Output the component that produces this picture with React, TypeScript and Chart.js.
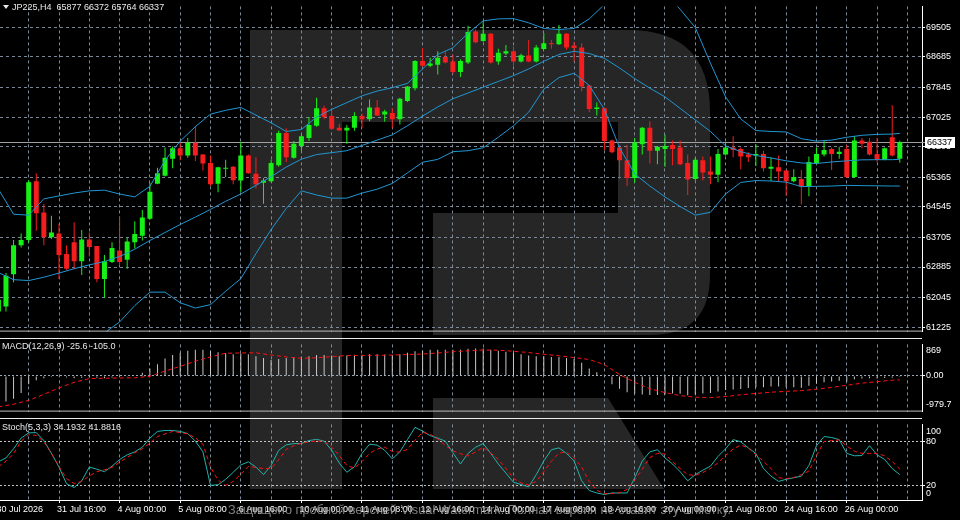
import React, { useEffect, useRef } from "react";
import { Chart, registerables } from "chart.js";

Chart.register(...registerables);

// ---------- data ----------
const symbolTitle = "JP225,H4  65877 66372 65764 66337";
const macdTitle = "MACD(12,26,9) -25.6 -105.0";
const stochTitle = "Stoch(5,3,3) 34.1932 41.8816";
const watermarkText = "Защищено пробной версией Visual Watermark. Полная версия не ставит эту отметку.";
const lastPrice = 66337;

const opens = [
  61659, 61792, 62688, 63485, 63634, 65254, 64388, 63705, 63812, 63246,
  63572, 63041, 63644, 63466, 62555, 63022, 63341, 63086, 63572, 63750,
  64218, 65185, 65406, 65876, 66168, 65964, 66317, 65990, 65759, 65185,
  65600, 65653, 65273, 65964, 65459, 65212, 65254, 65698, 66583, 65903,
  66229, 66450, 66787, 67266, 67053, 66734, 66655, 66734, 67053, 66965,
  67292, 67098, 67141, 66965, 67470, 67824, 68575, 68443, 68469, 68682,
  68560, 68267, 68533, 69391, 69126, 69330, 68560, 68780, 68841, 68560,
  68727, 68560, 68905, 69064, 69038, 69330, 69001, 68948, 67895, 67247,
  67266, 66381, 66184, 65831, 65345, 66275, 66734, 66097, 66142, 66256,
  66184, 65759, 65318, 65831, 65520, 65432, 65990, 66184, 66142, 65990,
  65964, 66009, 65600, 65637, 65547, 65254, 65318, 65105, 65759, 65990,
  66142, 66009, 66142, 65371, 66381, 66344, 66009, 65849, 66469, 65877,
];
const highs = [
  62111, 62722, 63634, 63812, 65281, 65477, 64635, 64298, 64077, 63485,
  64122, 63910, 63838, 63466, 63219, 63572, 64263, 63705, 64149, 64457,
  65212, 65626, 66184, 66211, 66317, 66450, 66787, 66009, 65964, 65653,
  65849, 65671, 66344, 65990, 65919, 65345, 65849, 66647, 66716, 66362,
  66556, 67026, 67558, 67337, 67231, 66841, 66806, 67159, 67114, 67513,
  67497, 67231, 67266, 67558, 67885, 68594, 68931, 68666, 68841, 68841,
  68753, 68621, 69551, 69444, 69683, 69346, 68913, 69019, 68974, 68772,
  69152, 69019, 69346, 69152, 69569, 69345, 69107, 69064, 67911, 67425,
  67292, 66407, 66256, 66256, 66450, 66750, 66912, 66229, 66540, 66381,
  66381, 65990, 65910, 65937, 65937, 66142, 66317, 66495, 66184, 66051,
  66275, 66097, 65919, 65964, 65565, 65584, 65565, 65937, 66184, 66381,
  66184, 66203, 66256, 66495, 66450, 66450, 66450, 66184, 67353, 66372,
];
const lows = [
  61526, 61659, 62464, 63421, 63572, 63883, 63485, 63660, 62555, 62802,
  62820, 62661, 63174, 62464, 62039, 62996, 62953, 62836, 63394, 63618,
  64191, 65167, 65387, 65610, 65831, 65903, 65812, 65547, 65121, 64946,
  65371, 65167, 64946, 65459, 65052, 64635, 65228, 65653, 65786, 65876,
  66097, 66362, 66761, 66965, 66673, 66647, 66291, 66647, 66716, 66912,
  67053, 66894, 66716, 66822, 67444, 67762, 68416, 68400, 68203, 68506,
  68222, 68134, 68488, 69064, 69107, 68506, 68469, 68735, 68443, 68533,
  68540, 68533, 68886, 68913, 69019, 68886, 68560, 67736, 67159, 67072,
  66115, 66025, 65318, 65121, 65212, 65990, 65743, 65725, 65653, 65698,
  65698, 64874, 65273, 65281, 65167, 65228, 65964, 65919, 65584, 65786,
  65671, 65520, 65254, 65254, 64856, 65228, 64609, 64840, 65725, 65937,
  65565, 65876, 65345, 65345, 66168, 65964, 65786, 65831, 65937, 65764,
];
const closes = [
  61978, 62642, 63485, 63634, 65228, 64369, 63705, 63838, 63219, 62836,
  63041, 63644, 63440, 62555, 63041, 63413, 63022, 63591, 63793, 64255,
  64962, 65477, 65903, 66168, 65964, 66317, 65964, 65743, 65167, 65637,
  65626, 65281, 65964, 65477, 65167, 65273, 65759, 66583, 65919, 66291,
  66495, 66806, 67266, 67026, 66700, 66655, 66734, 67053, 66965, 67292,
  67072, 67178, 66965, 67531, 67869, 68575, 68443, 68506, 68666, 68533,
  68267, 68575, 69373, 69091, 69330, 68533, 68799, 68841, 68560, 68735,
  68560, 68948, 69064, 69038, 69330, 68948, 68931, 67869, 67247, 67292,
  66362, 66051, 65831, 65345, 66317, 66734, 66097, 66203, 66229, 66142,
  65725, 65299, 65849, 65493, 65432, 66009, 66184, 66115, 65937, 65919,
  66009, 65610, 65653, 65520, 65254, 65371, 65105, 65786, 66009, 66115,
  66009, 66070, 65371, 66381, 66291, 65990, 65849, 66168, 65964, 66337,
];

const sampleBars = [
  0, 2, 4, 6, 8, 10, 12, 14, 16, 18, 20, 22, 24, 26, 28, 30, 32, 34, 36, 38,
  40, 42, 44, 46, 48, 50, 52, 54, 56, 58, 60, 62, 64, 66, 68, 70, 72, 74, 76, 78,
  80, 82, 84, 86, 88, 90, 92, 94, 96, 98, 100, 102, 104, 106, 108, 110, 112, 114, 116, 118, 119,
];
const bbUpper = [
  65034, 64343, 64316, 64768, 64848, 64927, 64988, 65007, 64901, 64821,
  65113, 65831, 66362, 66761, 67106, 67212, 67292, 67080, 66867, 66628,
  66681, 67026, 67239, 67425, 67611, 67744, 67837, 67956, 68355, 68754,
  68940, 69338, 69683, 69737, 69745, 69630, 69471, 69444, 69471, 69737,
  70135, 70481, 70746, 70746, 70481, 70002, 69497, 68514, 67584, 66973,
  66654, 66628, 66615, 66429, 66362, 66389, 66468, 66522, 66548, 66556, 66575,
];
const bbMiddle = [
  62730, 62536, 62510, 62603, 62717, 62839, 62943, 63036, 63174, 63376,
  63617, 63838, 64059, 64263, 64476, 64699, 64901, 65140, 65379, 65645,
  65863, 65990, 66043, 66097, 66243, 66389, 66535, 66787, 67053, 67305,
  67531, 67691, 67850, 68010, 68169, 68355, 68567, 68754, 68841, 68780,
  68647, 68381, 68089, 67824, 67584, 67266, 66947, 66628, 66229, 66070,
  65964, 65897, 65817, 65759, 65743, 65786, 65817, 65844, 65849, 65849, 65857,
];
const bbLower = [
  60437, 60729, 60703, 60437, 60597, 60756, 60889, 61064, 61367, 61819,
  62191, 62191, 61898, 61752, 61845, 62217, 62563, 63254, 63918, 64502,
  64988, 64874, 64787, 64787, 64927, 65034, 65193, 65485, 65778, 65857,
  66070, 66097, 66176, 66469, 66787, 67159, 67797, 68116, 68235, 67903,
  67239, 66176, 65459, 65121, 64821, 64555, 64316, 64396, 64901, 65220,
  65273, 65260, 65228, 65105, 65113, 65121, 65140, 65132, 65127, 65121, 65121,
];

const macdMain = [
  -740, -703, -624, -466, -229, -120, -60, -30, -20, -40,
  -60, -50, -40, -50, -60, -40, -30, -20, 0, 87,
  205, 324, 482, 577, 640, 695, 719, 719, 695, 656,
  624, 600, 616, 600, 545, 498, 442, 466, 498, 521,
  521, 545, 577, 577, 561, 545, 561, 585, 585, 600,
  600, 593, 577, 600, 640, 679, 703, 719, 719, 719,
  719, 719, 751, 758, 758, 719, 695, 664, 640, 600,
  561, 545, 545, 521, 521, 498, 466, 363, 205, 103,
  -10, -229, -348, -450, -482, -506, -521, -521, -506, -482,
  -490, -529, -506, -482, -466, -427, -387, -371, -356, -332,
  -308, -308, -292, -292, -308, -308, -324, -269, -213, -174,
  -150, -134, -150, -87, -71, -63, -71, -55, -47, -25.6,
];
const macdSignal = [
  -848, -777, -671, -505, -327, -173, -71, -62, -55, -50,
  -7, 135, 265, 408, 526, 626, 633, 638, 576, 526,
  486, 502, 533, 562, 566, 569, 576, 590, 604, 633,
  668, 692, 716, 709, 680, 645, 597, 557, 507, 453,
  313, 40, -173, -351, -457, -540, -583, -595, -566, -517,
  -481, -446, -422, -403, -363, -315, -256, -197, -156, -116, -105,
];

const stochMain = [
  51.7, 57.1, 69.6, 84.2, 91.3, 91.7, 80.8, 63.3, 44.6, 21.7,
  16.7, 25.8, 44.6, 41.7, 38.3, 45.8, 55, 61.3, 65.4, 71.7,
  84.2, 93.3, 94.6, 94.6, 93.3, 90.4, 80, 65.4, 19.6, 20.4,
  27.9, 37.5, 47.5, 51.7, 44.6, 34.2, 46.7, 67.5, 75, 76.7,
  76.7, 80.8, 82.5, 80, 67.5, 50, 37.5, 45, 63.3, 75.8,
  74.6, 67.5, 55.8, 65.4, 82.1, 98.8, 93.8, 87.5, 84.2, 80,
  64.2, 48.8, 63.3, 71.7, 76.7, 63.3, 48.8, 36.3, 23.8, 20.8,
  17.5, 34.2, 52.9, 68.3, 70.8, 63.3, 52.9, 25.8, 12.5, 9.2,
  7.1, 9.2, 9.2, 9.2, 30, 52.9, 65.4, 68.3, 57.1, 48.8,
  38.3, 25.8, 34.2, 40.4, 45.8, 59.2, 69.6, 82.1, 79.2, 70.8,
  63.3, 42.5, 32.1, 25, 27.9, 30, 32.1, 46.7, 73.8, 86.3,
  85, 82.1, 63.3, 60, 60.4, 73.8, 61.3, 55, 42.5, 34.1932,
];
const stochSignal = [
  45, 52.5, 62.9, 80, 88.8, 87.9, 79.2, 63.3, 45.4, 28.8,
  22.1, 25, 32.5, 38.3, 40.8, 44.2, 51.3, 57.9, 64.2, 69.6,
  77.1, 86.3, 90, 93.3, 91.7, 90, 84.6, 75.8, 44.6, 26.7,
  19.6, 25, 35, 45.4, 44.2, 42.5, 42.5, 54.6, 68.8, 73.8,
  77.1, 79.2, 80, 80, 71.7, 60.4, 46.7, 43.3, 52.1, 63.3,
  69.2, 71.7, 65.8, 65, 68.8, 81.3, 92.1, 89.6, 82.9, 74.2,
  66.7, 62.9, 59.6, 65.4, 71.3, 63.8, 55, 42.9, 29.2, 22.9,
  20, 25, 38.3, 52.5, 63.8, 65, 57.1, 44.6, 25, 12.9,
  8.3, 8.3, 9.6, 14.2, 26.7, 41.7, 57.5, 63.3, 62.5, 51.7,
  42.5, 34.2, 33.3, 37.1, 42.5, 50.4, 60.4, 69.2, 74.6, 70.8,
  61.3, 52.5, 42.5, 30, 28.8, 30.4, 34.2, 39.2, 60, 79.6,
  80.8, 81.7, 73.3, 66.3, 63.3, 63.3, 63.3, 60, 52.1, 41.8816,
];

const priceTicks = [61225, 62045, 62885, 63705, 64545, 65365, 66205, 67025, 67845, 68685, 69505];
const macdTickValues = [707, 0, -795];
const macdTickLabels = ["869", "0.00", "-979.7"];
const stochTickValues = [92.9, 80, 20, 8.3];
const stochTickLabels = ["100", "80", "20", "0"];
const gridBars = [0, 4, 8, 12, 16, 20, 24, 28, 32, 36, 40, 44, 48, 52, 56, 60, 64, 68, 72, 76, 80, 84, 88, 92, 96, 100, 104, 108, 112, 116, 120];
const timeLabelBars = [0, 8, 16, 24, 32, 40, 48, 56, 64, 72, 80, 88, 96, 104, 112];
const timeLabels = [
  "30 Jul 2026", "31 Jul 16:00", "4 Aug 00:00", "5 Aug 08:00", "6 Aug 16:00",
  "10 Aug 00:00", "11 Aug 08:00", "12 Aug 16:00", "14 Aug 00:00", "17 Aug 08:00",
  "18 Aug 16:00", "20 Aug 00:00", "21 Aug 08:00", "24 Aug 16:00", "26 Aug 00:00",
];

// ---------- style ----------
const X_MIN = 0.211;
const X_MAX = 121.93;
const AXIS_W = 38;
const GRID = "rgba(128,142,158,0.95)";
const UP = "#16f016";
const DOWN = "#f41e1e";
const BAND = "#2196d3";
const FONT = '"Liberation Sans", Arial, sans-serif';
const TRANSPARENT = "rgba(0,0,0,0)";

function xScale(showLabels: boolean): any {
  return {
    type: "linear",
    min: X_MIN,
    max: X_MAX,
    offset: false,
    bounds: "data",
    afterBuildTicks: (s: any) => {
      s.ticks = gridBars.map((v) => ({ value: v }));
    },
    afterFit: (s: any) => {
      s.height = showLabels ? 20 : 0;
      s.paddingLeft = 0;
      s.paddingRight = 0;
    },
    grid: {
      display: true,
      offset: false,
      color: GRID,
      lineWidth: 1,
      drawTicks: showLabels,
      tickLength: 3,
      tickWidth: 1,
      tickColor: (c: any) => (c.tick && timeLabelBars.includes(c.tick.value) ? "#ffffff" : TRANSPARENT),
    },
    border: { display: showLabels, color: "#ffffff", width: 1, dash: [3, 3] },
    ticks: {
      display: showLabels,
      autoSkip: false,
      maxRotation: 0,
      minRotation: 0,
      align: "start",
      labelOffset: -2,
      padding: 1,
      color: "#ffffff",
      font: { family: FONT, size: 9 },
      callback: (v: any) => {
        const k = timeLabelBars.indexOf(v);
        return k >= 0 ? timeLabels[k] : "";
      },
    },
  };
}

function yScale(min: number, max: number, values: number[], labels: string[] | null, gridColor: any, tickColor: any, dash: number[]): any {
  return {
    type: "linear",
    position: "right",
    min,
    max,
    bounds: "data",
    beginAtZero: false,
    afterBuildTicks: (s: any) => {
      s.ticks = values.map((v) => ({ value: v }));
    },
    afterFit: (s: any) => {
      s.width = AXIS_W;
    },
    grid: { color: gridColor, lineWidth: 1, drawTicks: true, tickLength: 3, tickWidth: 1, tickColor },
    border: { display: true, color: "#ffffff", width: 1, dash },
    ticks: {
      autoSkip: false,
      padding: 1,
      color: "#ffffff",
      font: { family: FONT, size: 9 },
      callback: (v: any, i: number) => (labels ? labels[i] : String(v)),
    },
  };
}

const baseOptions: any = {
  responsive: false,
  maintainAspectRatio: false,
  animation: false,
  events: [],
  layout: { padding: 0 },
  plugins: { legend: { display: false }, tooltip: { enabled: false } },
};

function hLine(ctx: CanvasRenderingContext2D, y: number, x1: number, x2: number, color: string) {
  ctx.save();
  ctx.strokeStyle = color;
  ctx.lineWidth = 1;
  ctx.beginPath();
  ctx.moveTo(x1, y);
  ctx.lineTo(x2, y);
  ctx.stroke();
  ctx.restore();
}

function drawTitle(ctx: CanvasRenderingContext2D, text: string, x: number, y: number) {
  ctx.save();
  ctx.font = `9px ${FONT}`;
  ctx.fillStyle = "#e8e8e8";
  ctx.textBaseline = "middle";
  ctx.textAlign = "left";
  ctx.fillText(text, x, y);
  ctx.restore();
}

export default function App() {
  const mainRef = useRef<HTMLCanvasElement>(null);
  const macdRef = useRef<HTMLCanvasElement>(null);
  const stochRef = useRef<HTMLCanvasElement>(null);

  useEffect(() => {
    document.body.style.margin = "0";
    document.body.style.background = "#000";
    const idx = opens.map((_, i) => i);
    const candleColors = idx.map((i) => (closes[i] >= opens[i] ? UP : DOWN));

    const mainPlugin = {
      id: "mainExtras",
      beforeDatasetsDraw(chart: any) {
        const { ctx, chartArea, scales } = chart;
        const py = Math.round(scales.y.getPixelForValue(lastPrice)) + 0.5;
        hLine(ctx, py, chartArea.left, chartArea.right + 3, "#a0a0a0");
      },
      afterDraw(chart: any) {
        const { ctx, chartArea, scales } = chart;
        hLine(ctx, chartArea.bottom - 0.5, 0, chartArea.right, "#bdbdbd");
        // header
        ctx.save();
        ctx.fillStyle = "#e8e8e8";
        ctx.beginPath();
        ctx.moveTo(3, 5);
        ctx.lineTo(9, 5);
        ctx.lineTo(6, 9);
        ctx.closePath();
        ctx.fill();
        ctx.restore();
        drawTitle(ctx, symbolTitle, 12, 7.5);
        // last price box
        const py = Math.round(scales.y.getPixelForValue(lastPrice));
        ctx.save();
        ctx.fillStyle = "#ffffff";
        ctx.fillRect(925, py - 5, 30, 11);
        ctx.fillStyle = "#000000";
        ctx.font = `9px ${FONT}`;
        ctx.textBaseline = "middle";
        ctx.fillText(String(lastPrice), 927, py + 0.5);
        ctx.restore();
      },
    };

    const macdPlugin = {
      id: "macdExtras",
      afterDraw(chart: any) {
        const { ctx, chartArea } = chart;
        hLine(ctx, 0.5, 0, chartArea.right, "#ececec");
        hLine(ctx, chartArea.bottom - 0.5, 0, chartArea.right, "#bdbdbd");
        drawTitle(ctx, macdTitle, 2, 9);
      },
    };

    const stochPlugin = {
      id: "stochExtras",
      afterDraw(chart: any) {
        const { ctx, chartArea } = chart;
        hLine(ctx, 0.5, 0, chartArea.right, "#ececec");
        drawTitle(ctx, stochTitle, 2, 10);
        ctx.save();
        ctx.font = `13px ${FONT}`;
        ctx.fillStyle = "rgba(150,150,150,0.85)";
        ctx.textBaseline = "middle";
        ctx.fillText(watermarkText, 228, 92, 503);
        ctx.restore();
      },
    };

    const main = new Chart(mainRef.current as HTMLCanvasElement, {
      type: "bar",
      data: {
        datasets: [
          { type: "line", data: sampleBars.map((b, k) => ({ x: b, y: bbUpper[k] })), borderColor: BAND, borderWidth: 1, pointRadius: 0, tension: 0, order: 0 } as any,
          { type: "line", data: sampleBars.map((b, k) => ({ x: b, y: bbMiddle[k] })), borderColor: BAND, borderWidth: 1, pointRadius: 0, tension: 0, order: 0 } as any,
          { type: "line", data: sampleBars.map((b, k) => ({ x: b, y: bbLower[k] })), borderColor: BAND, borderWidth: 1, pointRadius: 0, tension: 0, order: 0 } as any,
          { type: "bar", data: idx.map((i) => ({ x: i, y: [lows[i], highs[i]] })), backgroundColor: candleColors, barThickness: 1, grouped: false, inflateAmount: 0, borderWidth: 0, order: 2 } as any,
          { type: "bar", data: idx.map((i) => ({ x: i, y: [opens[i], closes[i]] })), backgroundColor: candleColors, barThickness: 5, grouped: false, inflateAmount: 0, borderWidth: 0, minBarLength: 1, order: 1 } as any,
        ],
      },
      options: {
        ...baseOptions,
        scales: {
          x: xScale(false),
          y: yScale(61101, 70082, priceTicks, null, GRID, "#ffffff", [3, 3]),
        },
      },
      plugins: [mainPlugin],
    } as any);

    const macd = new Chart(macdRef.current as HTMLCanvasElement, {
      type: "bar",
      data: {
        datasets: [
          { type: "line", data: sampleBars.map((b, k) => ({ x: b, y: macdSignal[k] })), borderColor: "#ff1010", borderWidth: 1, borderDash: [4, 3], pointRadius: 0, tension: 0, order: 0 } as any,
          { type: "bar", data: idx.map((i) => ({ x: i, y: macdMain[i] })), backgroundColor: "#c8c8c8", barThickness: 1, grouped: false, inflateAmount: 0, borderWidth: 0, order: 1 } as any,
        ],
      },
      options: {
        ...baseOptions,
        scales: {
          x: xScale(false),
          y: yScale(
            -979.7,
            869,
            macdTickValues,
            macdTickLabels,
            (c: any) => (c.tick && c.tick.value === 0 ? "#9aa6b2" : TRANSPARENT),
            (c: any) => (c.tick && c.tick.value === 0 ? "#ffffff" : TRANSPARENT),
            [2, 2]
          ),
        },
      },
      plugins: [macdPlugin],
    } as any);

    const stoch = new Chart(stochRef.current as HTMLCanvasElement, {
      type: "line",
      data: {
        datasets: [
          { data: idx.map((i) => ({ x: i, y: stochMain[i] })), borderColor: "#20b2aa", borderWidth: 1, pointRadius: 0, tension: 0, order: 1 },
          { data: idx.map((i) => ({ x: i, y: stochSignal[i] })), borderColor: "#ff1010", borderWidth: 1, borderDash: [4, 3], pointRadius: 0, tension: 0, order: 0 },
        ],
      },
      options: {
        ...baseOptions,
        scales: {
          x: xScale(true),
          y: yScale(
            -0.4,
            102.9,
            stochTickValues,
            stochTickLabels,
            (c: any) => (c.tick && (c.tick.value === 80 || c.tick.value === 20) ? "#c4c4c4" : TRANSPARENT),
            (c: any) => (c.tick && (c.tick.value === 80 || c.tick.value === 20) ? "#ffffff" : TRANSPARENT),
            [2, 2]
          ),
        },
      },
      plugins: [stochPlugin],
    } as any);

    return () => {
      main.destroy();
      macd.destroy();
      stoch.destroy();
    };
  }, []);

  return (
    <div style={{ position: "fixed", left: 0, top: 0, width: 960, height: 520, background: "#000", overflow: "hidden" }}>
      <svg width={960} height={520} style={{ position: "absolute", left: 0, top: 0 }}>
        <path
          d="M250,30 H628 Q710,30 710,112 V275 Q710,335 650,335 H433 V213 H618 V122 H342 V489 H250 Z"
          fill="#262626"
        />
        <path d="M433,398 H608 L664,489 H433 Z" fill="#262626" />
      </svg>
      <canvas ref={mainRef} width={960} height={338} style={{ position: "absolute", left: 0, top: 0, width: 960, height: 338 }} />
      <canvas ref={macdRef} width={960} height={80} style={{ position: "absolute", left: 0, top: 338, width: 960, height: 80 }} />
      <canvas ref={stochRef} width={960} height={102} style={{ position: "absolute", left: 0, top: 418, width: 960, height: 102 }} />
    </div>
  );
}
